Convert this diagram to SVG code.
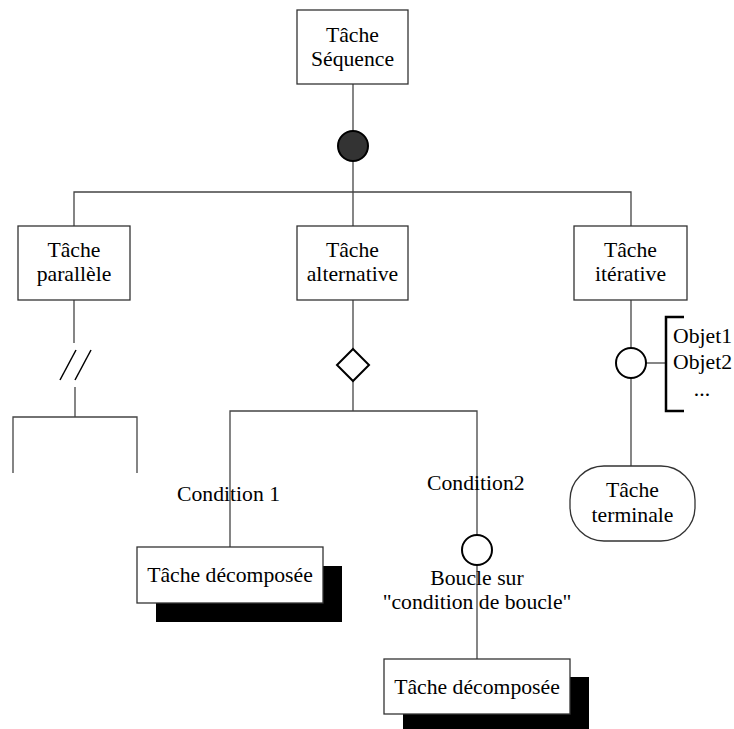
<svg xmlns="http://www.w3.org/2000/svg" width="734" height="729" viewBox="0 0 734 729">
<style>
  text { font-family: "Liberation Serif", "Times New Roman", serif; font-size: 21.7px; fill: #000; }
  .c { text-anchor: middle; }
  .box { fill: #fff; stroke: #333; stroke-width: 1.3; }
  .shadow { fill: #000; stroke: none; }
  .line { fill: none; stroke: #444; stroke-width: 1.3; }
  .sym { fill: #fff; stroke: #000; stroke-width: 2; }
  .bracket { fill: none; stroke: #000; stroke-width: 2.5; }
</style>
<rect width="734" height="729" fill="#fff"/>
<g id="connectors">
  <line class="line" x1="353" y1="84" x2="353" y2="131"/>
  <line class="line" x1="353" y1="161" x2="353" y2="192"/>
  <polyline class="line" points="74,226 74,192 631,192 631,226"/>
  <line class="line" x1="353" y1="192" x2="353" y2="226"/>
  <line class="line" x1="74" y1="300" x2="74" y2="343"/>
  <line class="line" x1="75" y1="387" x2="75" y2="417"/>
  <polyline class="line" points="13,473 13,417 137,417 137,473"/>
  <line class="line" x1="353" y1="300" x2="353" y2="349"/>
  <line class="line" x1="353" y1="381" x2="353" y2="411"/>
  <polyline class="line" points="230,547 230,411 477,411 477,535"/>
  <line class="line" x1="477" y1="565" x2="477" y2="659"/>
  <line class="line" x1="631" y1="300" x2="631" y2="348"/>
  <line class="line" x1="631" y1="378" x2="631" y2="466"/>
  <line class="line" x1="646" y1="363" x2="665" y2="363"/>
</g>
<g id="n-sequence">
  <rect class="box" x="297" y="10" width="111" height="74"/>
  <text class="c" x="352.5" y="42">Tâche</text>
  <text class="c" x="352.5" y="66">Séquence</text>
</g>
<g id="seq-op">
  <circle cx="353" cy="146" r="15" fill="#333" stroke="#000" stroke-width="2"/>
</g>
<g id="n-parallele">
  <rect class="box" x="18" y="226" width="112" height="74"/>
  <text class="c" x="74" y="257">Tâche</text>
  <text class="c" x="74" y="281">parallèle</text>
</g>
<g id="par-break">
  <line x1="60" y1="380" x2="76" y2="350" stroke="#000" stroke-width="1.5"/>
  <line x1="75" y1="380" x2="91" y2="350" stroke="#000" stroke-width="1.5"/>
</g>
<g id="n-alternative">
  <rect class="box" x="297" y="226" width="111" height="74"/>
  <text class="c" x="352.5" y="257">Tâche</text>
  <text class="c" x="352.5" y="281">alternative</text>
</g>
<g id="alt-op">
  <polygon class="sym" points="353,349 369,365 353,381 337,365"/>
</g>
<g id="n-iterative">
  <rect class="box" x="574" y="226" width="113" height="74"/>
  <text class="c" x="630.5" y="257">Tâche</text>
  <text class="c" x="630.5" y="281">itérative</text>
</g>
<g id="iter-op">
  <circle class="sym" cx="631" cy="363" r="15"/>
  <polyline class="bracket" points="684,317 666,317 666,411 684,411"/>
  <text x="673" y="343">Objet1</text>
  <text x="673" y="369">Objet2</text>
  <text x="702" y="396" class="c">...</text>
</g>
<g id="n-terminale">
  <rect class="box" x="570" y="466" width="125" height="75" rx="34" ry="34"/>
  <text class="c" x="632.5" y="497">Tâche</text>
  <text class="c" x="632.5" y="522">terminale</text>
</g>
<g id="n-decomp1">
  <rect class="shadow" x="156" y="566" width="186" height="56"/>
  <rect class="box" x="137" y="547" width="186" height="56"/>
  <text class="c" x="230" y="582">Tâche décomposée</text>
</g>
<text x="177" y="501">Condition 1</text>
<text x="427" y="490">Condition2</text>
<g id="loop-op">
  <circle class="sym" cx="477" cy="550" r="15"/>
  <text class="c" x="477" y="585">Boucle sur</text>
  <text class="c" x="477" y="609">"condition de boucle"</text>
</g>
<g id="n-decomp2">
  <rect class="shadow" x="403" y="677" width="186" height="52"/>
  <rect class="box" x="384" y="659" width="186" height="55"/>
  <text class="c" x="477" y="694">Tâche décomposée</text>
</g>
</svg>
